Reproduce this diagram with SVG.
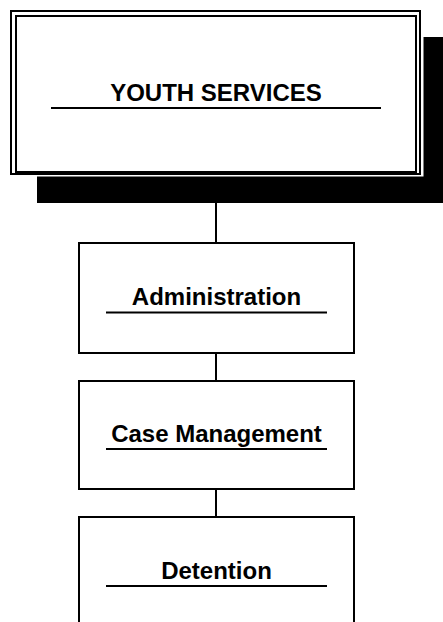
<svg xmlns="http://www.w3.org/2000/svg" width="443" height="622" viewBox="0 0 443 622">
<style>
.box{fill:#fff;stroke:#000;stroke-width:2}
.lbl{font-family:"Liberation Sans",Arial,sans-serif;font-weight:bold;font-size:24px;fill:#000;text-anchor:middle}
.ul{stroke:#000;stroke-width:2}
.conn{stroke:#000;stroke-width:2;fill:none}
</style>
<rect width="443" height="622" fill="#fff"/>
<g id="connectors">
<line class="conn" x1="216" y1="203" x2="216" y2="243"/>
<line class="conn" x1="216" y1="353" x2="216" y2="381"/>
<line class="conn" x1="216" y1="489" x2="216" y2="517"/>
</g>
<g id="youth-services">
<rect x="37" y="37" width="410" height="166" fill="#000"/>
<rect x="8.5" y="9.5" width="415" height="167" fill="#fff"/>
<rect x="11" y="11" width="409" height="163" fill="#fff" stroke="#000" stroke-width="2"/>
<rect x="16" y="16" width="400" height="156" fill="none" stroke="#000" stroke-width="2"/>
<text class="lbl" x="216" y="101">YOUTH SERVICES</text>
<line class="ul" x1="51" y1="108" x2="381" y2="108"/>
</g>
<g id="administration">
<rect class="box" x="79" y="243" width="275" height="110"/>
<text class="lbl" x="216.5" y="305">Administration</text>
<line class="ul" x1="106" y1="312.5" x2="327" y2="312.5"/>
</g>
<g id="case-management">
<rect class="box" x="79" y="381" width="275" height="108"/>
<text class="lbl" x="216.5" y="442">Case Management</text>
<line class="ul" x1="106" y1="449" x2="327" y2="449"/>
</g>
<g id="detention">
<rect class="box" x="79" y="517" width="275" height="110"/>
<text class="lbl" x="216.5" y="579">Detention</text>
<line class="ul" x1="106" y1="586" x2="327" y2="586"/>
</g>
</svg>
